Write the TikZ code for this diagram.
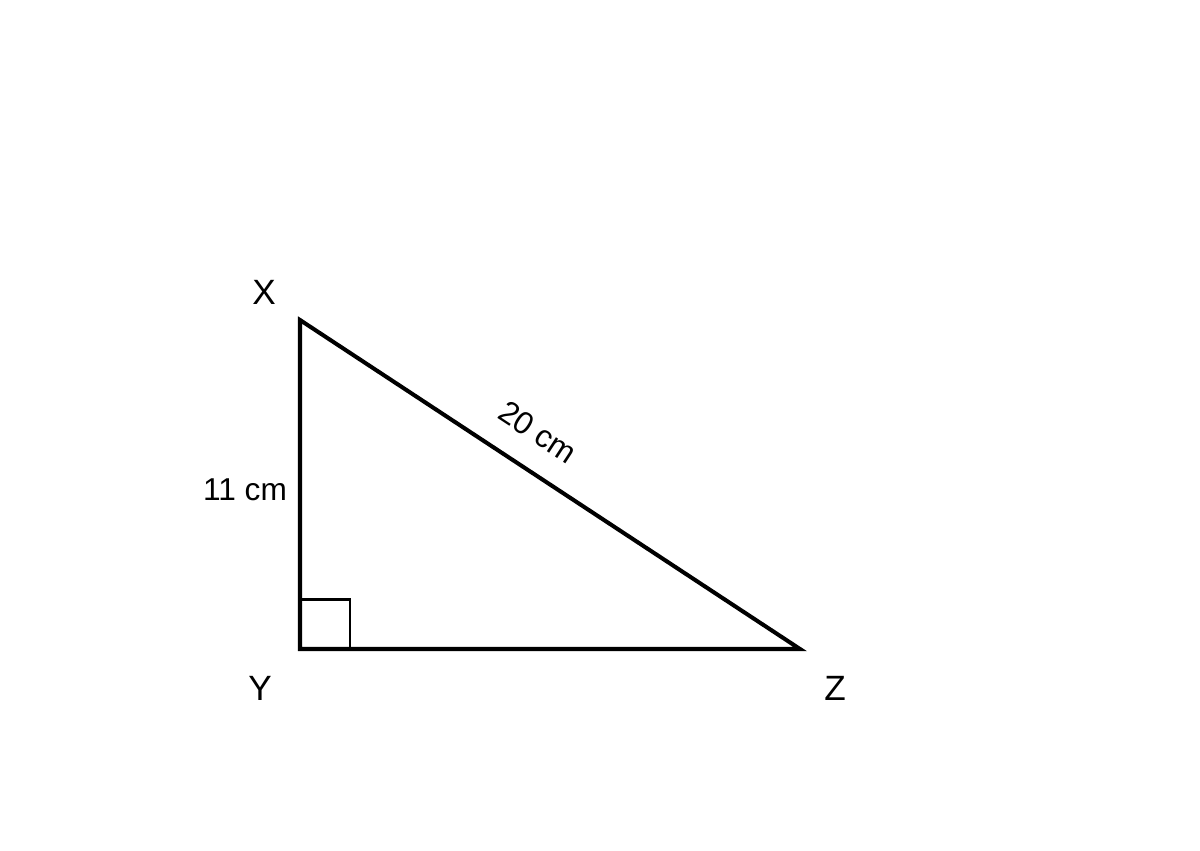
\documentclass[tikz,border=0pt]{standalone}
\usepackage{fontspec}
\setmainfont{Liberation Sans}
\begin{document}
\begin{tikzpicture}[x=0.02cm,y=-0.02cm,
  edge/.style={line width=2.3pt,line join=miter},
  mark90/.style={line width=1.7pt},
  vlabel/.style={font=\fontsize{20}{24}\selectfont,inner sep=0pt},
  mlabel/.style={font=\fontsize{18}{22}\selectfont,inner sep=0pt}]
\useasboundingbox (0,0) rectangle (1200,850);
\coordinate (X) at (300,320);
\coordinate (Y) at (300,649);
\coordinate (Z) at (800,649);
\draw[edge] (X) -- (Y) -- (Z) -- cycle;
\draw[mark90] (300,599) -- (350,599) -- (350,649);
\node[vlabel] (lx) at (264,292) {X};
\node[vlabel] (ly) at (260,688) {Y};
\node[vlabel] (lz) at (835,688) {Z};
\node[mlabel] (l11) at (245,490) {11 cm};
\node[mlabel,rotate=-33.3] (l20) at (538,432) {20 cm};
\end{tikzpicture}
\end{document}
